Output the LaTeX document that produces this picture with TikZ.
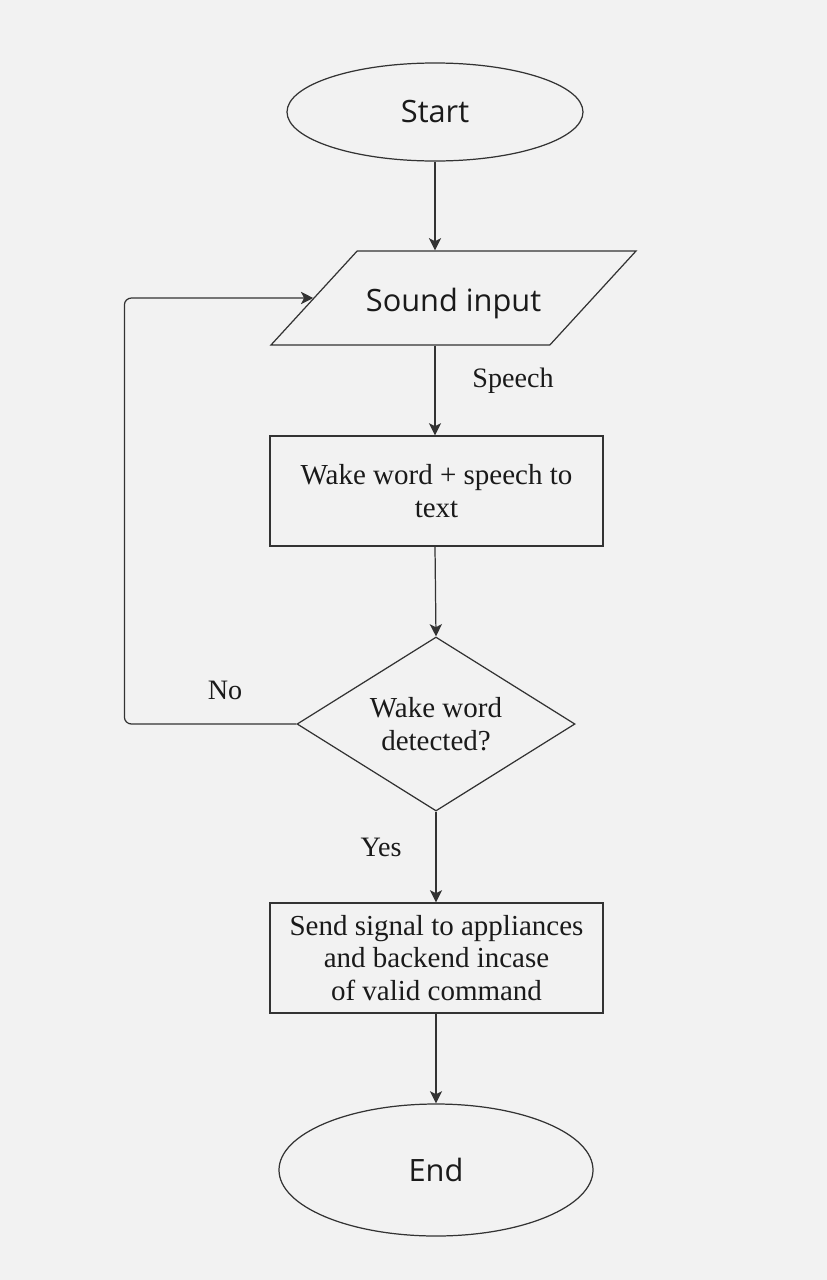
\documentclass[tikz,border=0pt]{standalone}
\usepackage{fontspec}
\setmainfont{Liberation Serif}
\newfontfamily\opensans{Open Sans}
\usetikzlibrary{shapes.geometric}
\usetikzlibrary{arrows.meta}
\definecolor{bgcol}{HTML}{F2F2F2}
\definecolor{linecol}{HTML}{333333}
\definecolor{textcol}{HTML}{1A1A1A}
\tikzstyle{block}=[draw=linecol, line width=0.7pt, text=textcol, inner sep=0pt, align=center, font=\fontsize{16.5}{18.7}\selectfont]
\tikzstyle{terminal}=[block, ellipse, font=\opensans\fontsize{17.5}{20}\selectfont]
\tikzstyle{io}=[block, trapezium, trapezium left angle=47.5, trapezium right angle=132.5, trapezium stretches body, text height=1.2cm, text depth=0.68cm, font=\opensans\fontsize{17.5}{20}\selectfont]
\tikzstyle{process}=[block, rectangle, minimum width=6.66cm, minimum height=2.2cm]
\tikzstyle{decision}=[block, diamond, shape aspect=1.6]
\tikzstyle{flow}=[draw=linecol, line width=0.7pt, -{Stealth[length=7pt, width=7pt, inset=1.8pt]}]
\tikzstyle{flowlabel}=[text=textcol, font=\fontsize{16}{18}\selectfont]

\begin{document}
\begin{tikzpicture}
        \fill[bgcol] (0, 0) rectangle (16.54, -25.6);
        \useasboundingbox (0, 0) rectangle (16.54, -25.6);
        \node[terminal, minimum width=5.92cm, minimum height=1.96cm] (start) at (8.7, -2.24) {Start};
        \node[io, minimum width=7.3cm] (sound) at (9.07, -5.96) {Sound input};
        \node[process] (wake) at (8.73, -9.82) {Wake word + speech to\\text};
        \node[decision, minimum width=5.56cm, minimum height=3.48cm] (detect) at (8.72, -14.48) {Wake word\\detected?};
        \node[process] (send) at (8.73, -19.16) {Send signal to appliances\\and backend incase\\of valid command};
        \node[terminal, minimum width=6.28cm, minimum height=2.64cm] (end) at (8.72, -23.4) {End};
        % connectors
        \draw[flow] (start.south) -- (start.south |- sound.north);
        \draw[flow] (start.south |- sound.south) -- (start.south |- wake.north);
        \draw[flow] (start.south |- wake.south) -- (detect.north);
        \draw[flow] (detect.south) -- (detect.south |- send.north);
        \draw[flow] (detect.south |- send.south) -- (end.north);
        \draw[flow, rounded corners=4pt] (detect.west) -- ++(-3.44, 0) |- (sound.west);
        % labels
        \node[flowlabel] (speech) at (10.26, -7.62) {Speech};
        \node[flowlabel] (yes) at (7.62, -16.94) {Yes};
        \node[flowlabel] (no) at (4.5, -13.8) {No};
    \end{tikzpicture}
\end{document}
